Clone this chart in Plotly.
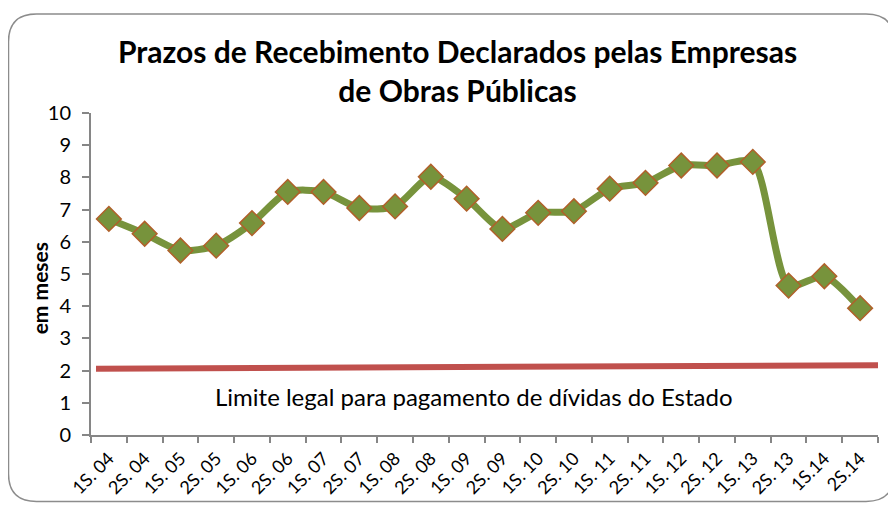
import plotly.graph_objects as go

categories = ["1S. 04", "2S. 04", "1S. 05", "2S. 05", "1S. 06", "2S. 06", "1S. 07", "2S. 07",
              "1S. 08", "2S. 08", "1S. 09", "2S. 09", "1S. 10", "2S. 10", "1S. 11", "2S. 11",
              "1S. 12", "2S. 12", "1S. 13", "2S. 13", "1S.14", "2S.14"]
prazos = [6.71, 6.25, 5.73, 5.88, 6.58, 7.55, 7.55, 7.05, 7.10, 8.02, 7.34, 6.40,
          6.90, 6.95, 7.65, 7.83, 8.37, 8.37, 8.48, 4.64, 4.93, 3.94]
limite_x = [-0.36, 21.5]
limite_y = [2.06, 2.17]
y_ticks = [0, 1, 2, 3, 4, 5, 6, 7, 8, 9, 10]

OFF = 8  # page body margin
W, H = 896 - OFF, 510 - OFF
L, R, T, B = 91 - OFF, 18, 113 - OFF, 72
pw, ph = W - L - R, H - T - B

def px(x):
    return (x - OFF - L) / pw

def py(y):
    return (H - B - (y - OFF)) / ph

FONT = "Lato, Open Sans, sans-serif"
GREEN = "#77933C"
BROWN = "#B0602A"
RED = "#C0504D"
AXIS = "#868686"

fig = go.Figure()

fig.add_trace(go.Scatter(
    x=categories, y=prazos, mode="lines+markers",
    line=dict(color=GREEN, width=7, shape="spline", smoothing=0.7),
    marker=dict(symbol="diamond", size=19, color=GREEN,
                line=dict(color=BROWN, width=1.5)),
    showlegend=False, hoverinfo="x+y"))

fig.add_trace(go.Scatter(
    x=limite_x, y=limite_y, xaxis="x2", mode="lines",
    line=dict(color=RED, width=6), showlegend=False, hoverinfo="y"))

# rounded chart frame
x0, x1, y0, y1, r = px(8.5), px(894), py(13), py(505), 28
rx, ry = r / pw, r / ph
path = (f"M {x0+rx},{y0} L {x1-rx},{y0} Q {x1},{y0} {x1},{y0-ry} "
        f"L {x1},{y1+ry} Q {x1},{y1} {x1-rx},{y1} L {x0+rx},{y1} "
        f"Q {x0},{y1} {x0},{y1+ry} L {x0},{y0-ry} Q {x0},{y0} {x0+rx},{y0} Z")

fig.update_layout(
    width=W, height=H,
    margin=dict(l=L, r=R, t=T, b=B),
    paper_bgcolor="white", plot_bgcolor="white",
    font=dict(family=FONT, color="#000000"),
    xaxis=dict(type="category", tickson="boundaries", ticks="outside", ticklen=6,
               tickcolor=AXIS, tickwidth=1.5, showline=True, linecolor=AXIS, linewidth=2,
               showgrid=False, tickangle=-45, tickfont=dict(size=18, family=FONT),
               ticklabelstandoff=4, range=[-0.5, 21.5], fixedrange=True),
    xaxis2=dict(overlaying="x", range=[-0.5, 21.5], visible=False, fixedrange=True),
    yaxis=dict(range=[0, 10], tickvals=y_ticks, ticks="outside", ticklen=7,
               tickcolor=AXIS, tickwidth=1.5, showline=True, linecolor=AXIS, linewidth=2,
               showgrid=False, zeroline=False, tickfont=dict(size=20, family=FONT),
               ticklabelstandoff=7, fixedrange=True),
    shapes=[dict(type="path", path=path, xref="paper", yref="paper",
                 line=dict(color="#8C8C8C", width=1.5), layer="below")],
    annotations=[
        dict(text="<b>Prazos de Recebimento Declarados pelas Empresas<br>de Obras Públicas</b>",
             x=px(457), y=py(70), xref="paper", yref="paper", showarrow=False,
             xanchor="center", yanchor="middle", align="center",
             font=dict(family=FONT, size=30, color="#000000")),
        dict(text="<b>em meses</b>", textangle=-90,
             x=px(39), y=py(290), xref="paper", yref="paper", showarrow=False,
             xanchor="center", yanchor="middle",
             font=dict(family=FONT, size=21, color="#000000")),
        dict(text="Limite legal para pagamento de dívidas do Estado",
             x=px(474), y=py(399), xref="paper", yref="paper",
             showarrow=False, xanchor="center", yanchor="middle",
             font=dict(family=FONT, size=24, color="#000000"))],
)

fig.write_html("out.html")
